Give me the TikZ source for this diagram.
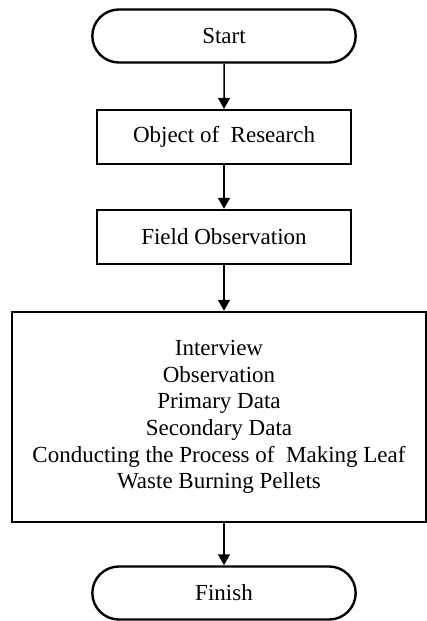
\documentclass[tikz,border=0pt]{standalone}
\usepackage{fontspec}
\setmainfont{Liberation Serif}
\usetikzlibrary{shapes.misc,arrows.meta}
\tikzstyle{every node}=[draw, line width=2.4pt, align=center, font=\fontsize{23}{26.6}\selectfont]
\tikzstyle{terminal}=[rounded rectangle, minimum width=270pt, minimum height=53pt]
\tikzstyle{process}=[rectangle, minimum width=254pt, minimum height=54pt]
\tikzstyle{flow}=[-{Triangle[length=11pt,width=12pt]}, line width=1.5pt]

\begin{document}
\begin{tikzpicture}[x=1pt, y=-1pt]
    \useasboundingbox (0,0) rectangle (427,621);
% Steps
    \node[terminal] (start) at (224,36) {Start};
    \node[process] (research) at (224,137) {Object of\ \ Research};
    \node[process] (field) at (224,237) {Field Observation};
    \node[rectangle, minimum width=414pt, minimum height=210pt] (collect) at (219,417)
        {Interview\\ Observation\\ Primary Data\\ Secondary Data\\
         Conducting the Process of\ \ Making Leaf\\ Waste Burning Pellets};
    \node[terminal] (finish) at (224,593) {Finish};
% Arrows
    \draw[flow] (start) -- (research);
    \draw[flow] (research) -- (field);
    \draw[flow] (field.south) -- (field.south |- collect.north);
    \draw[flow] (finish.north |- collect.south) -- (finish.north);
\end{tikzpicture}
\end{document}
